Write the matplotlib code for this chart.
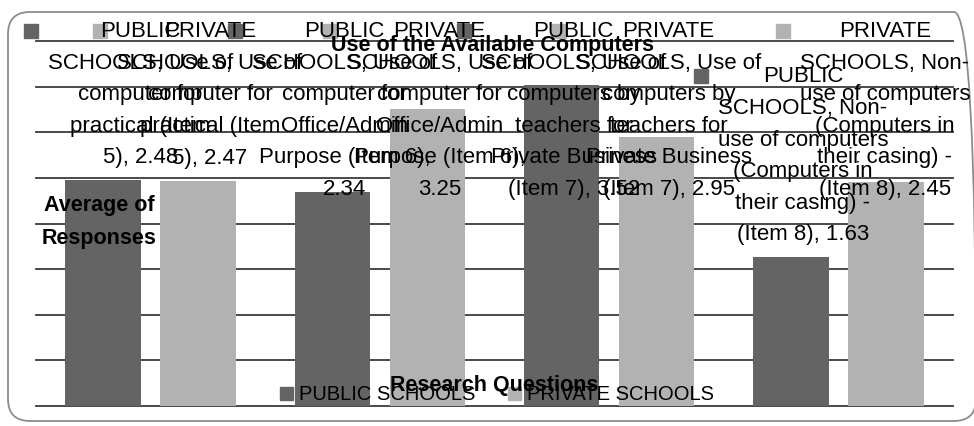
import matplotlib
matplotlib.use("Agg")
import matplotlib.pyplot as plt
import numpy as np
from matplotlib.patches import FancyBboxPatch, Rectangle
from matplotlib.transforms import IdentityTransform

# series names and category names, already broken the way the labels wrap
series = ["PUBLIC\nSCHOOLS", "PRIVATE\nSCHOOLS"]
categories = [
    "Use of\ncomputer for\npractical (Item\n5)",
    "Use of\ncomputer for\nOffice/Admin\nPurpose (Item 6)",
    "Use of\ncomputers by\nteachers for\nPrivate Business\n(Item 7)",
    "Non-\nuse of computers\n(Computers in\ntheir casing) -\n(Item 8)",
]
value_sep = [", ", ",\n", ", ", ", "]
public = [2.48, 2.34, 3.52, 1.63]
private = [2.47, 3.25, 2.95, 2.45]
values = [public, private]
colors = ["#646464", "#b2b2b2"]

plt.rcParams['font.family'] = ['Liberation Sans', 'DejaVu Sans']

W, H = 974, 426
fig = plt.figure(figsize=(W / 100, H / 100), dpi=100, facecolor='w')
ax = fig.add_axes([36 / W, 20 / H, 917 / W, 365 / H])

x = np.arange(len(categories))
bw = 0.33
off = 0.207
bars = []
for s in range(2):
    b = ax.bar(x + (2 * s - 1) * off, values[s], bw, color=colors[s], zorder=2)
    bars.append(b)

ax.set_xlim(-0.5, 3.5)
ax.set_ylim(0, 4)
ax.set_yticks(np.arange(0, 4.01, 0.5))
ax.yaxis.grid(True, color='#3a3a3a', lw=1.3)
for gl in ax.get_ygridlines():
    gl.set_clip_on(False)
ax.set_axisbelow(True)
for sp in ax.spines.values():
    sp.set_visible(False)
ax.tick_params(left=False, bottom=False, labelleft=False, labelbottom=False)

# outer rounded frame
frame = FancyBboxPatch((8, 5), 968, 409, boxstyle="round,pad=0,rounding_size=22",
                       transform=IdentityTransform(), fill=False, ec='#8c8c8c', lw=1.3)
fig.add_artist(frame)

fig.text(492 / W, 1 - 45 / H, "Use of the Available Computers", ha='center', va='center',
         fontsize=15.5, fontweight='bold', zorder=6)
fig.text(99 / W, 1 - 222 / H, "Average of\nResponses", ha='center', va='center',
         fontsize=15.5, fontweight='bold', linespacing=1.75, zorder=6)
fig.text(494 / W, 1 - 386 / H, "Research Questions", ha='center', va='center',
         fontsize=15.5, fontweight='bold', zorder=6)

handles = [Rectangle((0, 0), 1, 1, color=c) for c in colors]
fig.legend(handles, [n.replace("\n", " ") for n in series], loc='center',
           bbox_to_anchor=(497 / W, 1 - 395 / H), ncol=2, frameon=False, fontsize=14.5,
           handlelength=0.65, handleheight=0.65, handletextpad=0.3, columnspacing=1.6)

# data labels: key square + wrapped text, centred over the bar and kept inside the frame
fig.canvas.draw()
renderer = fig.canvas.get_renderer()
key_px, key_gap = 14, 10
left_lim, right_lim, top_lim = 24, 970, H - 21
for s in range(2):
    for i, rect in enumerate(bars[s]):
        v = values[s][i]
        txt = f"{series[s]}, {categories[i]}{value_sep[i]}{v:.2f}"
        t = fig.text(0, 0, txt, ha='center', va='top', ma='center', fontsize=16,
                     linespacing=1.66, transform=IdentityTransform(), zorder=4)
        bb = t.get_window_extent(renderer)
        cx, top_y = ax.transData.transform((rect.get_x() + rect.get_width() / 2, v))
        total = key_px + key_gap + bb.width
        left = np.clip(cx - total / 2, left_lim, right_lim - total)
        top = min(top_y + 12 + bb.height, top_lim)
        t.set_position((left + key_px + key_gap + bb.width / 2, top))
        fig.add_artist(Rectangle((left, top - 10 - key_px / 2), key_px, key_px,
                                 transform=IdentityTransform(), color=colors[s], zorder=4))

fig.savefig("out.png", dpi=100, facecolor='w')
